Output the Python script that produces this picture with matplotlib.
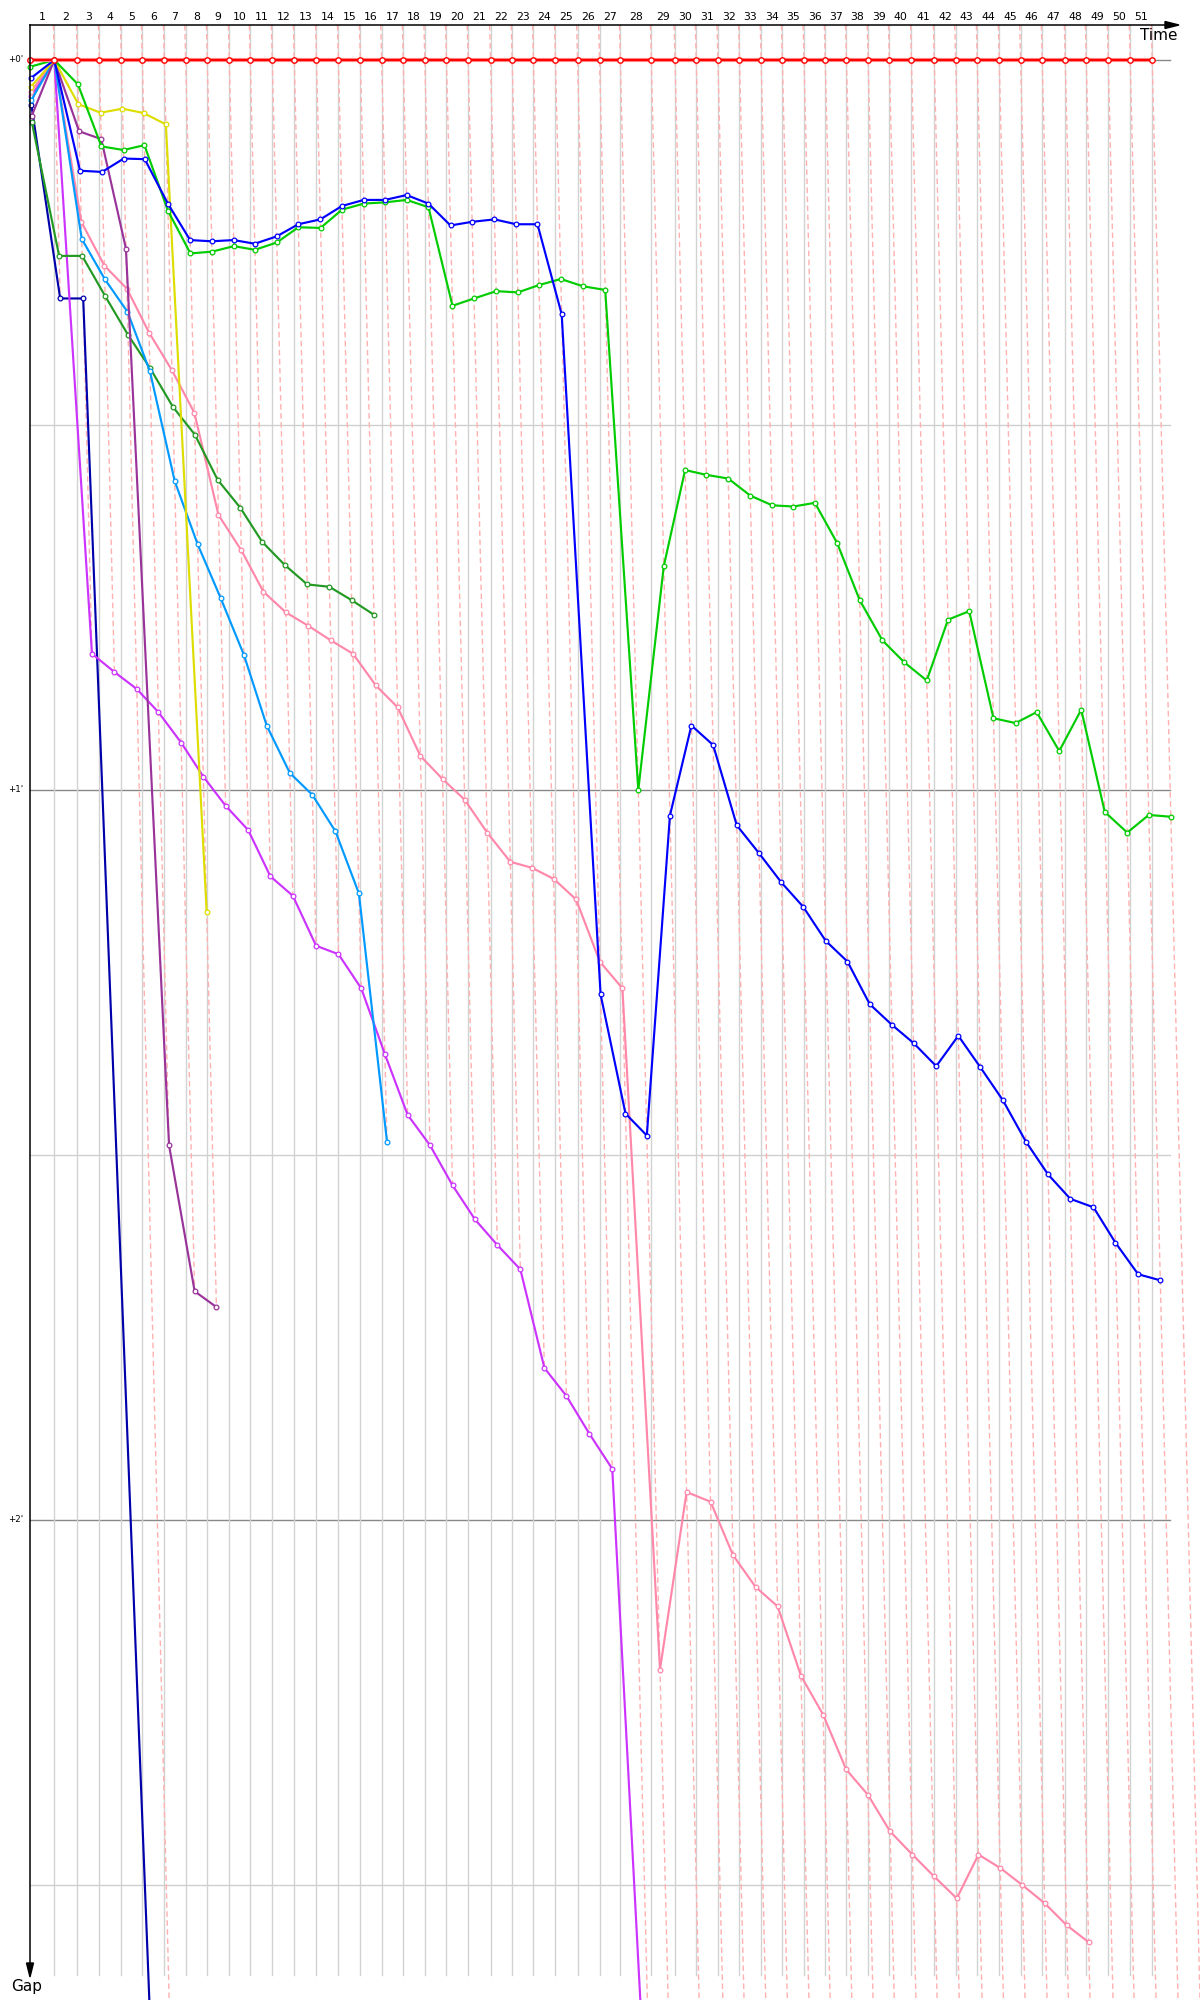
import numpy as np
import matplotlib
matplotlib.use("Agg")
import matplotlib.pyplot as plt
from matplotlib.patches import Polygon
from matplotlib.transforms import blended_transform_factory

# ---------------- data (seconds) ----------------
# leader lap times, laps 1..51
leader_lap_times = [80.0, 76.7, 73.3, 73.3, 70.0, 73.3, 71.3, 72.0, 73.3, 70.0,
                    73.3, 73.3, 74.0, 73.0, 73.3, 71.0, 72.0, 72.0, 72.0, 72.3,
                    74.7, 72.0, 71.0, 73.3, 73.7, 73.3, 69.3, 103.3, 79.0, 70.7,
                    72.3, 72.0, 72.0, 70.7, 72.3, 70.7, 70.7, 72.3, 70.7, 73.7,
                    76.0, 71.3, 72.0, 73.3, 71.3, 72.0, 76.7, 70.0, 73.3, 73.3, 73.3]
lap_labels = [str(i) for i in range(1, 52)]

# gaps to the reference car, index = lap (0 = start)
red_gaps = [0, 0, 0, 0, 0, 0, 0, 0, 0, 0, 0, 0, 0, 0, 0, 0, 0, 0, 0, 0, 0, 0, 0, 0, 0, 0,
            0, 0, 0, 0, 0, 0, 0, 0, 0, 0, 0, 0, 0, 0, 0, 0, 0, 0, 0, 0, 0, 0, 0, 0, 0, 0]
green_gaps = [0.55, 0, 2.0, 7.1, 7.4, 7.0, 12.4, 15.9, 15.75, 15.3, 15.6, 15.0, 13.75, 13.8,
              12.3, 11.8, 11.7, 11.5, 12.1, 20.2, 19.6, 19.0, 19.1, 18.5, 18.0, 18.6, 18.9,
              60.0, 41.6, 33.7, 34.1, 34.4, 35.8, 36.6, 36.7, 36.4, 39.7, 44.4, 47.7, 49.5,
              51.0, 46.0, 45.3, 54.1, 54.5, 53.6, 56.8, 53.4, 61.8, 63.5, 62.05, 62.2]
blue_gaps = [1.5, 0, 9.1, 9.2, 8.1, 8.15, 11.8, 14.8, 14.9, 14.8, 15.1, 14.5, 13.5, 13.1,
             12.0, 11.5, 11.5, 11.1, 11.8, 13.6, 13.3, 13.1, 13.5, 13.5, 20.9, 76.8, 86.6,
             88.4, 62.1, 54.7, 56.3, 62.9, 65.2, 67.6, 69.6, 72.4, 74.1, 77.6, 79.3, 80.8,
             82.7, 80.2, 82.8, 85.5, 88.9, 91.6, 93.6, 94.3, 97.2, 99.8, 100.3]
yellow_gaps = [2.2, 0, 3.64, 4.33, 4.0, 4.36, 5.29, 70.0]
purple_gaps = [4.6, 0, 5.86, 6.5, 15.5, 89.2, 101.2, 102.5]
lightblue_gaps = [3.3, 0, 14.7, 18.0, 20.7, 25.6, 34.6, 39.8, 44.2, 48.9, 54.7, 58.6, 60.4,
                  63.4, 68.5, 88.9]
darkgreen_gaps = [5.1, 16.1, 16.1, 19.4, 22.6, 25.3, 28.5, 30.8, 34.5, 36.8, 39.6, 41.5,
                  43.1, 43.3, 44.4, 45.6]
pink_gaps = [2.6, 0, 13.3, 16.9, 18.8, 22.4, 25.5, 29.0, 37.4, 40.3, 43.7, 45.4, 46.5, 47.7,
             48.8, 51.4, 53.2, 57.2, 59.1, 60.8, 63.5, 65.9, 66.4, 67.3, 69.0, 74.1, 76.3,
             132.3, 117.7, 118.5, 122.9, 125.5, 127.1, 132.8, 136.0, 140.5, 142.6, 145.6,
             147.5, 149.3, 151.1, 147.5, 148.6, 150.0, 151.5, 153.3, 154.7]
# laps 26.. are below the visible range (estimated)
magenta_gaps = [3.0, 0, 48.8, 50.3, 51.7, 53.6, 56.1, 58.9, 61.3, 63.3, 67.1, 68.7, 72.8,
                73.5, 76.3, 81.7, 86.7, 89.2, 92.5, 95.3, 97.4, 99.4, 107.5, 109.8, 112.9,
                115.8, 180, 184, 188, 191, 194, 197, 200, 203, 206, 209, 212, 215, 218, 221,
                224, 227, 230, 233, 236, 239, 242, 245, 248, 251, 254, 257]
navy_laps = [0, 1, 2, 4]
navy_gaps = [3.7, 19.6, 19.6, 274.0]

series = [
    ("navy", navy_laps, navy_gaps, "#0000aa"),
    ("magenta", None, magenta_gaps, "#cc33ff"),
    ("pink", None, pink_gaps, "#ff88aa"),
    ("darkgreen", None, darkgreen_gaps, "#229922"),
    ("lightblue", None, lightblue_gaps, "#0099ff"),
    ("purple", None, purple_gaps, "#993399"),
    ("yellow", None, yellow_gaps, "#dddd00"),
    ("green", None, green_gaps, "#00cc00"),
    ("blue", None, blue_gaps, "#0000ff"),
    ("red", None, red_gaps, "#ff0000"),
]

# ---------------- layout ----------------
W, H = 1200, 2000
X0, KX = 30.3, 0.30          # px of start, px per second on time axis
Y0, KY = 60.0, 730.0 / 60.0  # px of gap 0, px per second of gap

fig = plt.figure(figsize=(W / 100, H / 100), dpi=100)
ax = fig.add_axes([0, 0, 1, 1])
ax.set_axis_off()
ax.set_xlim((0 - X0) / KX, (W - X0) / KX)
ax.set_ylim((H - Y0) / KY, (0 - Y0) / KY)

def px_x(t):
    return (t - X0) / KX

def px_y(p):
    return (p - Y0) / KY

T = np.concatenate([[0.0], np.cumsum(leader_lap_times)])
n_laps = len(leader_lap_times)

g_top = px_y(25)
g_grid_bottom = px_y(1975)
g_bottom = px_y(H + 5)

# horizontal grid
for g, c in [(30, "#cfcfcf"), (90, "#cfcfcf"), (150, "#cfcfcf"),
             (0, "#888888"), (60, "#888888"), (120, "#888888")]:
    ax.plot([px_x(30), px_x(1170)], [g, g], color=c, lw=1.0, zorder=1)

# vertical lap grid
for n in range(1, n_laps + 1):
    ax.plot([T[n], T[n]], [g_top, g_grid_bottom], color="#d2d2d2", lw=1.0, zorder=1)

# lap lines (dashed) through each car's crossing of lap n
all_pts = []
for name, laps, gaps, col in series:
    laps = list(range(len(gaps))) if laps is None else laps
    all_pts.append(dict(zip(laps, gaps)))
for n in range(1, n_laps + 1):
    gm = max(d[n] for d in all_pts if n in d)
    gm = min(gm, g_bottom)
    ax.plot([T[n] + g_top, T[n] + gm], [g_top, gm], color="#ffb0b0", lw=1.0,
            ls=(0, (4, 2.5)), zorder=2)

# series
for i, (name, laps, gaps, col) in enumerate(series):
    laps = np.arange(len(gaps)) if laps is None else np.array(laps)
    g = np.array(gaps, dtype=float)
    x = T[laps] + g
    if name == "red":
        ax.plot(x, g, color="#ff8c8c", lw=3.0, zorder=3 + i, solid_capstyle="butt")
        ax.plot(x, g, color=col, lw=1.5, zorder=3 + i, marker="o", ms=3.9,
                mfc="white", mec=col, mew=1.0)
    else:
        ax.plot(x, g, color=col, lw=1.55, zorder=3 + i, marker="o", ms=3.4,
                mfc="white", mec=col, mew=0.9)

# lap numbers on top
trans_top = blended_transform_factory(ax.transData, ax.transAxes)
for n in range(1, n_laps + 1):
    ax.text((T[n - 1] + T[n]) / 2, 1 - 17 / H, lap_labels[n - 1], transform=trans_top,
            ha="center", va="center", fontsize=7.8, color="black", zorder=20)

# gap labels
trans_left = blended_transform_factory(ax.transAxes, ax.transData)
for g, lab in [(0, "+0'"), (60, "+1'"), (120, "+2'")]:
    ax.text(23 / W, g, lab, transform=trans_left, ha="right", va="center",
            fontsize=6.2, color="black", zorder=20)

# axis arrows (pixel overlay)
deco = fig.add_axes([0, 0, 1, 1], facecolor="none")
deco.set_axis_off()
deco.set_xlim(0, W)
deco.set_ylim(H, 0)
deco.plot([30, 1166], [25, 25], color="black", lw=1.1, zorder=30)
deco.plot([30, 30], [25, 1965], color="black", lw=1.1, zorder=30)
deco.add_patch(Polygon([(1165, 21.5), (1179, 25), (1165, 28.5)], closed=True,
                       color="black", zorder=31))
deco.add_patch(Polygon([(26.5, 1963), (30, 1977), (33.5, 1963)], closed=True,
                       color="black", zorder=31))
deco.text(1178, 35, "Time", ha="right", va="center", fontsize=11, color="black")
deco.text(11, 1986, "Gap", ha="left", va="center", fontsize=11, color="black")

fig.savefig("out.png", dpi=100)
